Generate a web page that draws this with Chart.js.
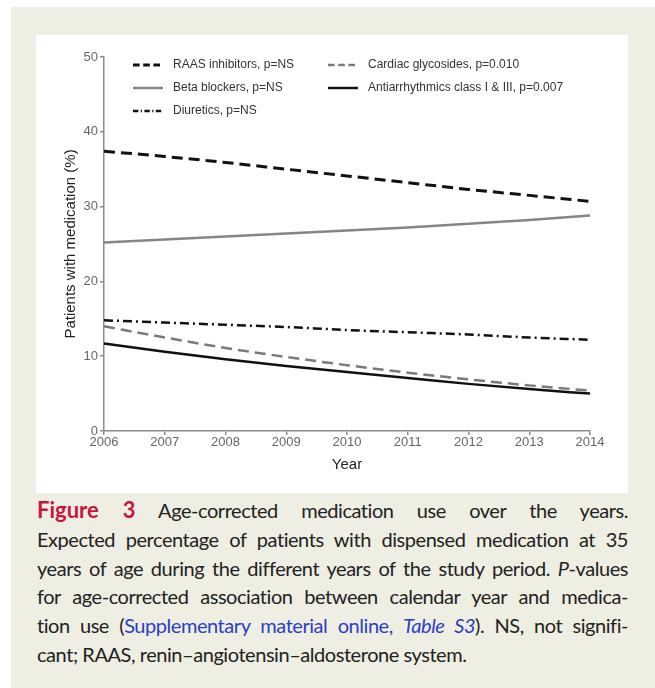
<!DOCTYPE html>
<html>
<head>
<meta charset="utf-8">
<script src="https://cdn.jsdelivr.net/npm/chart.js"></script>
<style>
  html,body{margin:0;padding:0;background:#fff;}
  #page{position:absolute;left:11px;top:7px;width:644px;height:681px;background:#efeee3;}
  #panel{position:absolute;left:36px;top:35px;width:592px;height:458px;background:#fff;}
  #caption{position:absolute;left:37px;top:496px;width:591px;font-family:Lato,"Open Sans",sans-serif;font-size:20px;letter-spacing:-0.45px;color:#222;line-height:28.8px;}
  #caption div{text-align:justify;text-align-last:justify;white-space:nowrap;}
  #caption div.last{text-align-last:left;}
  .fig{color:#c8173f;font-weight:bold;font-size:22px;letter-spacing:0;}
  .lnk{color:#2b3fc4;}
</style>
</head>
<body>
<div id="page"></div>
<div id="panel"><canvas id="chart" width="592" height="458"></canvas></div>
<div id="caption">
  <div><span class="fig">Figure 3</span> Age-corrected medication use over the years.</div>
  <div>Expected percentage of patients with dispensed medication at 35</div>
  <div>years of age during the different years of the study period. <i>P</i>-values</div>
  <div>for age-corrected association between calendar year and medica-</div>
  <div>tion use (<span class="lnk">Supplementary material online, <i>Table S3</i></span>). NS, not signifi-</div>
  <div class="last">cant; RAAS, renin–angiotensin–aldosterone system.</div>
</div>
<script>

// =====================
// DATA
// =====================

const years = ["2006","2007","2008","2009","2010","2011","2012","2013","2014"];

const raas      = [37.4,36.7,35.9,35.0,34.1,33.2,32.3,31.5,30.7];
const beta      = [25.2,25.6,26.0,26.4,26.8,27.2,27.7,28.2,28.8];
const diuretics = [14.8,14.5,14.2,13.9,13.5,13.2,12.9,12.5,12.2];
const glyco     = [14.0,12.5,11.1,9.9,8.8,7.8,6.9,6.1,5.4];
const antiarr   = [11.7,10.6,9.6,8.7,7.9,7.1,6.3,5.6,5.0];

const labels = [
  "RAAS inhibitors, p=NS",
  "Beta blockers, p=NS",
  "Diuretics, p=NS",
  "Cardiac glycosides, p=0.010",
  "Antiarrhythmics class I & III, p=0.007"
];

const axisGray = "#8c8c8c";

function ds(label, data, color, width, dash){
  return {
    label:label, data:data, borderColor:color, borderWidth:width,
    borderDash:dash, pointRadius:0, fill:false,
    tension:0.4, cubicInterpolationMode:"monotone"
  };
}

// legend slot for each dataset: [column, row]
const slots = [[0,0],[0,1],[0,2],[1,0],[1,1]];

// =====================
// LEGEND PLUGIN
// =====================

const gridLegend = {
  id:"gridLegend",
  afterDraw(chart){
    const ctx = chart.ctx;
    const colX = [97,292];
    const rowY = [30,53,76];
    chart.data.datasets.forEach((d,i)=>{
      const x = colX[slots[i][0]], y = rowY[slots[i][1]];
      ctx.save();
      ctx.strokeStyle = d.borderColor;
      ctx.lineWidth = d.borderWidth;
      ctx.setLineDash(d.borderDash.length ? d.borderDash.map(v=>v*0.6) : []);
      ctx.beginPath();
      ctx.moveTo(x,y);
      ctx.lineTo(x+30,y);
      ctx.stroke();
      ctx.setLineDash([]);
      ctx.fillStyle = "#333";
      ctx.font = "12px Arial, 'Liberation Sans', sans-serif";
      ctx.textBaseline = "middle";
      ctx.fillText(d.label, x+40, y);
      ctx.restore();
    });
  }
};

// =====================
// CHART
// =====================

new Chart(document.getElementById("chart"), {
  type:"line",
  data:{
    labels:years,
    datasets:[
      ds(labels[0], raas, "#111", 3, [11,6]),
      ds(labels[1], beta, "#858585", 2.5, []),
      ds(labels[2], diuretics, "#111", 2.5, [9,4,2,4]),
      ds(labels[3], glyco, "#7a7a7a", 2.5, [11,6]),
      ds(labels[4], antiarr, "#111", 2.5, [])
    ]
  },
  options:{
    responsive:false,
    animation:false,
    layout:{padding:{top:22,right:38,left:0,bottom:0}},
    plugins:{legend:{display:false},tooltip:{enabled:false}},
    scales:{
      x:{
        afterFit(s){ s.height = 62; },
        grid:{drawOnChartArea:false,drawTicks:true,tickLength:4,color:axisGray,lineWidth:1.5},
        border:{display:true,color:axisGray,width:1.5},
        ticks:{color:"#666",padding:0,maxRotation:0,font:{family:"Arial",size:13}},
        title:{display:true,text:"Year",color:"#222",font:{family:"Arial",size:15},padding:{top:19,bottom:19}}
      },
      y:{
        min:0,max:50,
        afterFit(s){ s.width = 68; },
        grid:{drawOnChartArea:false,drawTicks:true,tickLength:4,color:axisGray,lineWidth:1.5},
        border:{display:true,color:axisGray,width:1.5},
        ticks:{stepSize:10,color:"#666",padding:2,font:{family:"Arial",size:13}},
        title:{display:true,text:"Patients with medication (%)",color:"#222",font:{family:"Arial",size:15},padding:{top:26,bottom:0}}
      }
    }
  },
  plugins:[gridLegend]
});
</script>
</body>
</html>
